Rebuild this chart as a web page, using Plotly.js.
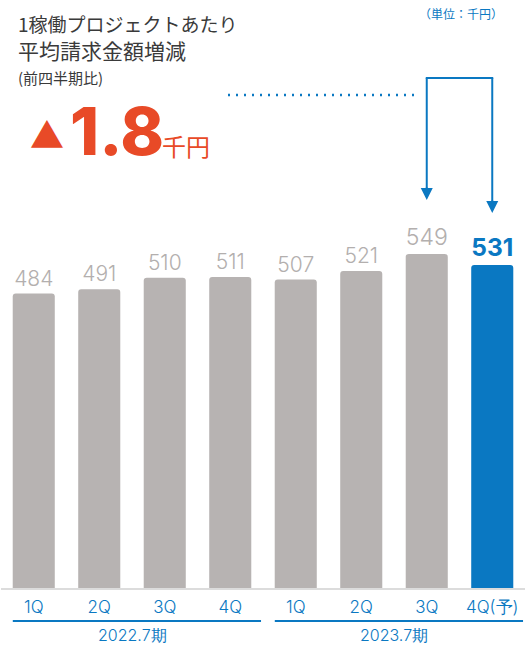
<!DOCTYPE html>
<html>
<head>
<meta charset="utf-8">
<script src="https://cdn.plot.ly/plotly-3.0.1.min.js"></script>
<style>
html,body{margin:0;padding:0;background:#fff;}
#chart{width:525px;height:645px;}
</style>
</head>
<body>
<div id="chart"></div>
<script>
// ---- data ----
const quarters = ["1Q","2Q","3Q","4Q","1Q","2Q","3Q","4Q(予)"];
const values = [484, 491, 510, 511, 507, 521, 549, 531];
const fiscalYears = ["2022.7期", "2023.7期"];
const yearGroups = [[0,3],[4,7]];
const highlightIndex = 7;
const compareIndex = 6;
const deltaText = "1.8";

// ---- layout constants ----
const W = 525, H = 645;
const M = {l:1, r:0, t:10, b:57};
const PW = W - M.l - M.r, PH = H - M.t - M.b;
const xp = px => (px - M.l) / PW;
const yp = py => (H - M.b - py) / PH;

const grey = "#b7b3b2";
const blue = "#0a78c2";
const labelGrey = "#b3afae";
const red = "#e84a27";
const latin = "Inter, 'Open Sans', sans-serif";
const jp = "'Noto Sans CJK JP', sans-serif";

const idx = values.map((v,i)=>i);
const barColors = idx.map(i => i === highlightIndex ? blue : grey);
const textColors = idx.map(i => i === highlightIndex ? blue : labelGrey);
const textSizes = idx.map(i => (i === highlightIndex || i === compareIndex) ? 25 : 21);
const textWeights = idx.map(i => i === highlightIndex ? 700 : 300);

const trace = {
  type: "bar",
  x: idx,
  y: values,
  marker: {color: barColors, cornerradius: 3},
  text: values.map(String),
  textposition: "outside",
  cliponaxis: false,
  textfont: {family: latin, color: textColors, size: textSizes, weight: textWeights},
  hoverinfo: "none"
};

const shapes = [];
const annotations = [];

// group underlines + labels
yearGroups.forEach((g, k) => {
  shapes.push({type:"line", xref:"x", yref:"paper", x0:g[0]-0.32, x1:g[1]+0.47, y0:yp(621), y1:yp(621),
    line:{color:blue, width:2}});
  annotations.push({xref:"x", yref:"paper", x:(g[0]+g[1])/2, y:yp(635), text:fiscalYears[k], showarrow:false,
    xanchor:"center", yanchor:"middle", font:{family:latin, size:16, weight:300, color:blue}});
});

// dotted line
shapes.push({type:"line", xref:"paper", yref:"paper", x0:xp(228), x1:xp(420), y0:yp(95), y1:yp(95),
  line:{color:blue, width:2.5, dash:"2px,6px"}});
// bracket arrow
const xA = compareIndex, xB = highlightIndex;
shapes.push({type:"line", xref:"x", yref:"paper", x0:xA, x1:xA, y0:yp(78), y1:yp(192), line:{color:blue, width:2}});
shapes.push({type:"line", xref:"x", yref:"paper", x0:xB, x1:xB, y0:yp(78), y1:yp(205), line:{color:blue, width:2}});
shapes.push({type:"line", xref:"x", yref:"paper", x0:xA-0.015, x1:xB+0.015, y0:yp(78), y1:yp(78), line:{color:blue, width:2}});
// arrowheads via annotations
[[xA,200],[xB,213]].forEach(([x,py]) => {
  annotations.push({xref:"x", yref:"paper", x:x, y:yp(py), ax:0, ay:-14, showarrow:true,
    arrowhead:2, arrowsize:1.2, arrowwidth:2, arrowcolor:blue, text:""});
});

// titles
annotations.push({xref:"paper", yref:"paper", x:xp(16), y:yp(23), xanchor:"left", yanchor:"middle", showarrow:false,
  text:"1稼働プロジェクトあたり", font:{family:jp, size:19, color:"#3a3a3a"}});
annotations.push({xref:"paper", yref:"paper", x:xp(16), y:yp(50), xanchor:"left", yanchor:"middle", showarrow:false,
  text:"平均請求金額増減", font:{family:jp, size:21, color:"#3a3a3a"}});
annotations.push({xref:"paper", yref:"paper", x:xp(16), y:yp(77), xanchor:"left", yanchor:"middle", showarrow:false,
  text:"(前四半期比)", font:{family:jp, size:15, color:"#3a3a3a"}});
annotations.push({xref:"paper", yref:"paper", x:xp(28), y:yp(133), xanchor:"left", yanchor:"middle", showarrow:false,
  text:"▲", font:{family:jp, size:34, color:red}});
annotations.push({xref:"paper", yref:"paper", x:xp(68), y:yp(131), xanchor:"left", yanchor:"middle", showarrow:false,
  text:deltaText, font:{family:latin, size:66, color:red, weight:800}});
annotations.push({xref:"paper", yref:"paper", x:xp(160), y:yp(145), xanchor:"left", yanchor:"middle", showarrow:false,
  text:"千円", font:{family:jp, size:24, color:red}});
annotations.push({xref:"paper", yref:"paper", x:xp(505), y:yp(14), xanchor:"right", yanchor:"middle", showarrow:false,
  text:"（単位：千円）", font:{family:jp, size:12, color:blue}});

const layout = {
  width: W, height: H,
  margin: M,
  paper_bgcolor: "#fff", plot_bgcolor: "#fff",
  showlegend: false,
  bargap: 0.358,
  xaxis: {
    tickmode: "array", tickvals: idx, ticktext: quarters,
    range: [-0.5, values.length - 0.5],
    showline: true, linecolor: "#dcdcdc", linewidth: 2,
    showgrid: false, zeroline: false, ticks: "",
    tickfont: {family: latin, size: 17, weight: 300, color: blue},
    ticklabelstandoff: 3,
    fixedrange: true
  },
  yaxis: {
    range: [0, 950], visible: false, showgrid: false, zeroline: false, fixedrange: true
  },
  shapes: shapes,
  annotations: annotations
};

Plotly.newPlot("chart", [trace], layout, {displayModeBar: false, staticPlot: true});
</script>
</body>
</html>
